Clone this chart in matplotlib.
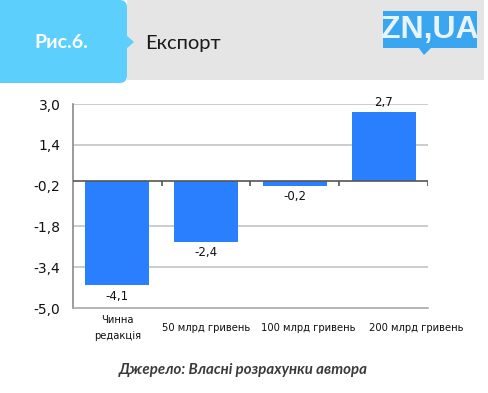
import matplotlib
matplotlib.use("Agg")
import matplotlib.pyplot as plt
from matplotlib.patches import FancyBboxPatch, Rectangle, Polygon
import matplotlib.transforms as mtransforms

categories = ["Чинна\nредакція", "50 млрд гривень", "100 млрд гривень", "200 млрд гривень"]
values = [-4.1, -2.4, -0.2, 2.7]
yticks = [3.0, 1.4, -0.2, -1.8, -3.4, -5.0]
grid_levels = [3.0, 1.4, -1.8, -3.4]
title = "Експорт"
fig_label = "Рис.6."
source = "Джерело: Власні розрахунки автора"

W, H = 489, 393
fig = plt.figure(figsize=(W / 100, H / 100), dpi=100)
fig.patch.set_facecolor("white")

def px(x, y):
    return x / W, 1 - y / H

HF = ["Lato", "Open Sans", "DejaVu Sans"]

# Header: gray band
band = Rectangle(px(127, 80), (484 - 127) / W, 80 / H, transform=fig.transFigure,
                 facecolor="#e5e5e5", edgecolor="none")
fig.add_artist(band)
box = FancyBboxPatch(px(-10, 83), (137) / W, 83 / H, transform=fig.transFigure,
                     boxstyle="round,pad=0,rounding_size=0.015",
                     facecolor="#5ccffd", edgecolor="none", mutation_aspect=W / H)
fig.add_artist(box)
arrow = Polygon([px(126, 35), px(134, 42), px(126, 49)], closed=True,
                transform=fig.transFigure, facecolor="#5ccffd", edgecolor="none")
fig.add_artist(arrow)
fig.text(*px(61, 42), fig_label, color="white", fontsize=14, fontweight="bold",
         ha="center", va="center", family=HF)
fig.text(*px(145, 43), title, color="#1a1a1a", fontsize=14.5, ha="left", va="center",
         family=HF)
# logo
logo = Rectangle(px(383, 48), (477 - 383) / W, 37 / H, transform=fig.transFigure,
                 facecolor="#3aa6ef", edgecolor="none")
fig.add_artist(logo)
tail = Polygon([px(418, 47), px(432, 47), px(424, 55)], closed=True,
               transform=fig.transFigure, facecolor="#3aa6ef", edgecolor="none")
fig.add_artist(tail)
fig.text(*px(430, 30), "ZN,UA", color="#e8f4fc", fontsize=23, fontweight="bold",
         fontstretch="condensed", ha="center", va="center",
         family=["Liberation Sans", "DejaVu Sans"])

# Axes
l, b = px(73, 308)
ax = fig.add_axes([l, b, 355 / W, 204 / H])
x = list(range(len(values)))
ax.set_xlim(-0.5, len(values) - 0.5)
ax.set_ylim(-5.0, 3.0)

for g in grid_levels:
    ax.axhline(g, color="#c4c4c4", lw=1.2, zorder=0)

ax.bar(x, values, width=0.72, color="#2a7fff", zorder=2)
ax.axhline(0, color="#555555", lw=1.2, zorder=3)
ax.vlines([i + 0.5 for i in x], -0.2, 0, color="#555555", lw=1.2, zorder=3)

for xi, v in zip(x, values):
    lab = f"{v:.1f}".replace(".", ",")
    off = 9 if v > 0 else -11
    ax.annotate(lab, (xi, v), xytext=(0, off), textcoords="offset pixels",
                ha="center", va="center", fontsize=8.5, color="#111111")

ax.set_yticks(yticks)
ax.set_yticklabels([f"{t:.1f}".replace(".", ",") for t in yticks], fontsize=10, color="#111111")
ax.tick_params(axis="y", length=0, pad=9)
ax.set_xticks([])

label_shift = [0, 0, 13, 33]
trans = mtransforms.blended_transform_factory(ax.transData, ax.transAxes)
for xi, c, sh in zip(x, categories, label_shift):
    ax.annotate(c, (xi, -20 / 204), xycoords=trans, xytext=(sh, 0),
                textcoords="offset pixels", ha="center", va="center",
                fontsize=7.2, color="#111111", linespacing=1.7)

for s in ["top", "right"]:
    ax.spines[s].set_visible(False)
ax.spines["left"].set_color("#8a8a8a")
ax.spines["left"].set_linewidth(1.2)
ax.spines["bottom"].set_color("#a8a8a8")
ax.spines["bottom"].set_linewidth(1.2)

fig.text(*px(243, 370), source, color="#3a3a3a", fontsize=10.8, fontweight="bold",
         style="italic", ha="center", va="center", family=HF)

fig.savefig("out.png", dpi=100, facecolor="white")
